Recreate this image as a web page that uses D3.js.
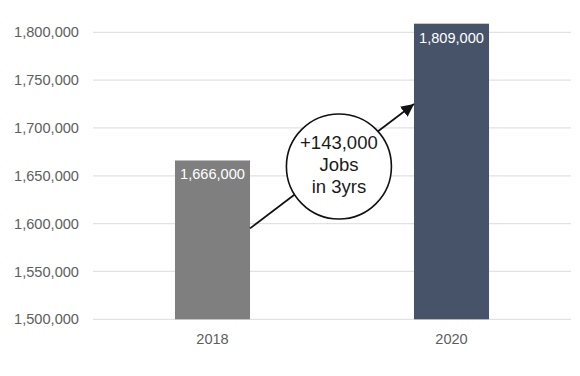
<!DOCTYPE html>
<html>
<head>
<meta charset="utf-8">
<script src="https://cdn.jsdelivr.net/npm/d3@7"></script>
<style>
  body { margin: 0; background: #fff; }
  svg { display: block; font-family: "Liberation Sans", Arial, Helvetica, sans-serif; }
</style>
</head>
<body>
<svg id="chart" width="580" height="376"></svg>
<script>
// Chart data
const years = ["2018", "2020"];
const jobs = [1666000, 1809000];
const yTicks = [1500000, 1550000, 1600000, 1650000, 1700000, 1750000, 1800000];
const barColors = ["#7f7f7f", "#475369"];

// Annotation arrow: from right edge of 2018 bar to left edge of 2020 bar
const arrowFrom = 1595000;
const arrowTo = 1725000;
const annotationLines = ["+143,000", "Jobs", "in 3yrs"];

const svg = d3.select("#chart");
const margin = { top: 32.3, right: 9, bottom: 56.7, left: 93 };
const width = 580 - margin.left - margin.right;
const height = 376 - margin.top - margin.bottom;

const g = svg.append("g")
  .attr("transform", `translate(${margin.left},${margin.top})`);

const x = d3.scaleBand()
  .domain(years)
  .range([0, width])
  .paddingInner(0.686)
  .paddingOuter(0.343);

const y = d3.scaleLinear()
  .domain([1500000, 1800000])
  .range([height, 0]);

// Gridlines
g.selectAll(".grid")
  .data(yTicks)
  .enter().append("line")
  .attr("class", "grid")
  .attr("x1", 0)
  .attr("x2", width)
  .attr("y1", d => y(d))
  .attr("y2", d => y(d))
  .attr("stroke", "#e2e2e2")
  .attr("stroke-width", 1.3);

// Y axis labels
const yAxis = g.append("g")
  .call(d3.axisLeft(y).tickValues(yTicks).tickFormat(d3.format(",")).tickSize(0).tickPadding(14));
yAxis.select(".domain").remove();
yAxis.selectAll("text")
  .style("fill", "#5e5e5e")
  .style("font-size", "14.6px")
  .style("font-family", "'Liberation Sans', Arial, sans-serif");

// X axis labels
const xAxis = g.append("g")
  .attr("transform", `translate(0,${height})`)
  .call(d3.axisBottom(x).tickSize(0).tickPadding(14));
xAxis.select(".domain").remove();
xAxis.selectAll("text")
  .style("fill", "#5e5e5e")
  .style("font-size", "14.6px")
  .style("font-family", "'Liberation Sans', Arial, sans-serif");

// Bars
const data = years.map((yr, i) => ({ year: yr, value: jobs[i], color: barColors[i] }));

g.selectAll(".bar")
  .data(data)
  .enter().append("rect")
  .attr("class", "bar")
  .attr("x", d => x(d.year))
  .attr("width", x.bandwidth())
  .attr("y", d => y(d.value))
  .attr("height", d => height - y(d.value))
  .attr("fill", d => d.color);

// Value labels inside bars
g.selectAll(".val")
  .data(data)
  .enter().append("text")
  .attr("class", "val")
  .attr("x", d => x(d.year) + x.bandwidth() / 2)
  .attr("y", d => y(d.value) + 19)
  .attr("text-anchor", "middle")
  .style("fill", "#fff")
  .style("font-size", "14.6px")
  .text(d => d3.format(",")(d.value));

// Arrow annotation
svg.append("defs").append("marker")
  .attr("id", "arrowhead")
  .attr("viewBox", "0 0 10 10")
  .attr("refX", 10)
  .attr("refY", 5)
  .attr("markerWidth", 7.5)
  .attr("markerHeight", 7.5)
  .attr("markerUnits", "strokeWidth")
  .attr("orient", "auto")
  .append("path")
  .attr("d", "M0,0 L10,5 L0,10 Z")
  .attr("fill", "#111");

const ax1 = x(years[0]) + x.bandwidth();
const ay1 = y(arrowFrom);
const ax2 = x(years[1]);
const ay2 = y(arrowTo);

g.append("line")
  .attr("x1", ax1)
  .attr("y1", ay1)
  .attr("x2", ax2)
  .attr("y2", ay2)
  .attr("stroke", "#111")
  .attr("stroke-width", 1.7)
  .attr("marker-end", "url(#arrowhead)");

// Circle with text, placed a bit past the midpoint of the arrow
const t = 0.53;
const cx = ax1 + (ax2 - ax1) * t + 2;
const cy = ay1 + (ay2 - ay1) * t + 4;

g.append("circle")
  .attr("cx", cx)
  .attr("cy", cy)
  .attr("r", 52.5)
  .attr("fill", "#fff")
  .attr("stroke", "#111")
  .attr("stroke-width", 1.6);

g.append("g")
  .selectAll("text")
  .data(annotationLines)
  .enter().append("text")
  .attr("x", cx)
  .attr("y", (d, i) => cy - 17.5 + i * 22)
  .attr("text-anchor", "middle")
  .style("fill", "#1a1a1a")
  .style("font-size", "18.5px")
  .text(d => d);
</script>
</body>
</html>
